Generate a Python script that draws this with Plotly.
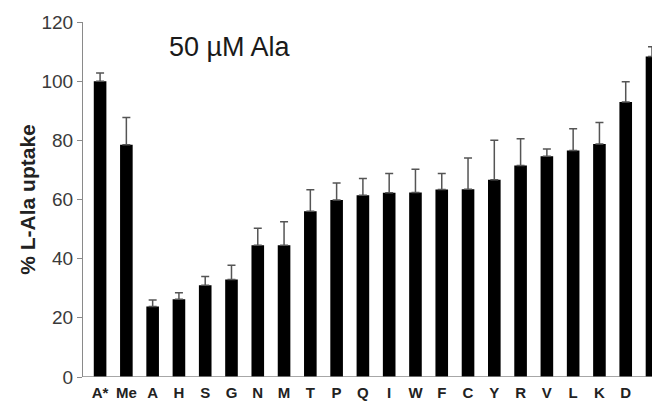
import plotly.graph_objects as go

categories = ["A*", "Me", "A", "H", "S", "G", "N", "M", "T", "P", "Q", "I",
              "W", "F", "C", "Y", "R", "V", "L", "K", "D", "E"]
uptake = [100, 78.5, 23.8, 26.3, 31.0, 33.0, 44.5, 44.5, 56.0, 59.8, 61.4, 62.3,
          62.4, 63.4, 63.5, 66.7, 71.5, 74.6, 76.6, 78.8, 93.0, 108.3]
err_up = [2.8, 9.2, 2.2, 2.2, 3.0, 4.8, 5.8, 8.0, 7.3, 5.8, 5.7, 6.5,
          7.8, 5.4, 10.5, 13.3, 9.0, 2.5, 7.3, 7.2, 6.8, 3.3]
y_ticks = [0, 20, 40, 60, 80, 100, 120]

x_idx = list(range(len(categories)))
FONT = "Liberation Sans, Arial, sans-serif"

fig = go.Figure(go.Bar(
    x=x_idx, y=uptake, width=0.48,
    marker=dict(color="black", line=dict(width=0)),
    error_y=dict(type="data", array=err_up, arrayminus=[0] * len(err_up),
                 symmetric=False, color="#555555", thickness=1.5, width=4),
))

fig.update_layout(
    width=652, height=410,
    margin=dict(l=83, r=0, t=22, b=33, autoexpand=False),
    plot_bgcolor="white", paper_bgcolor="white",
    showlegend=False,
    font=dict(family=FONT, color="#222222"),
    xaxis=dict(
        tickmode="array", tickvals=x_idx,
        ticktext=["<b>%s</b>" % c for c in categories],
        range=[-0.65, 21.0], showgrid=False, zeroline=False,
        showline=False, ticks="", automargin=False, ticklabelstandoff=5,
        tickfont=dict(size=15, family=FONT, color="#222222"),
    ),
    yaxis=dict(
        range=[0, 120], tickvals=y_ticks, showgrid=False, zeroline=False,
        showline=True, linecolor="#8a8a8a", linewidth=1.2,
        ticks="outside", ticklen=5, tickcolor="#8a8a8a", automargin=False,
        tickfont=dict(size=19, family=FONT, color="#3a3a3a"),
        title=dict(text="<b>% L-Ala uptake</b>",
                   font=dict(size=21, family=FONT, color="#222222"), standoff=0),
    ),
    annotations=[dict(
        x=0.148, y=0.93, xref="paper", yref="paper", text="50 µM Ala",
        showarrow=False, xanchor="left", yanchor="middle",
        font=dict(size=27, family=FONT, color="#1a1a1a"),
    )],
    shapes=[dict(type="line", xref="paper", yref="y", x0=0, x1=1, y0=0, y1=0,
                 line=dict(color="#8a8a8a", width=1.5))],
)

fig.write_html(
    "out.html",
    config={"displayModeBar": False},
    post_script="document.body.style.margin='0';document.body.style.overflow='hidden';",
)
